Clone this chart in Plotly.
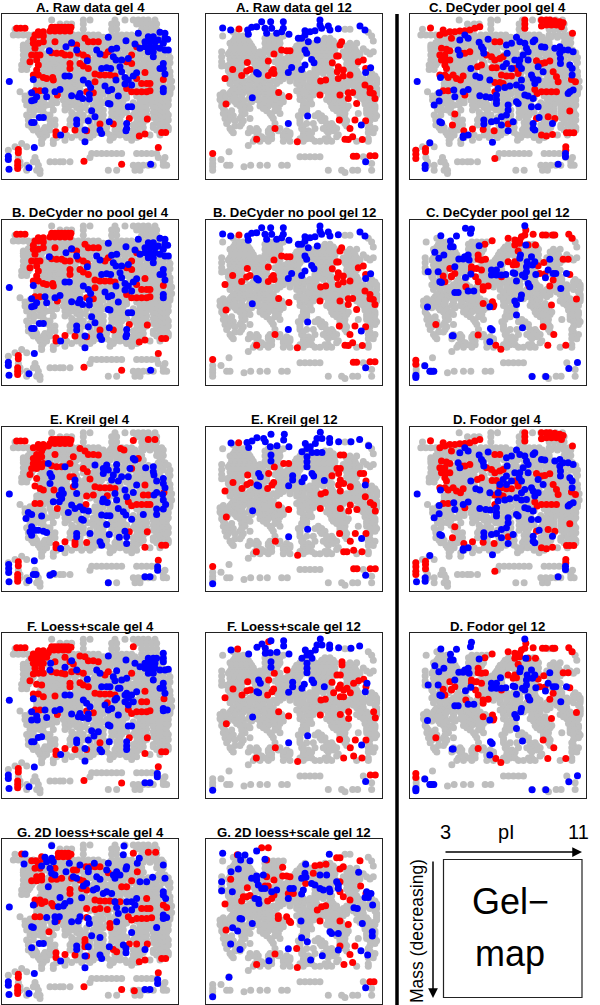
import plotly.graph_objects as go

# Spot positions are read in picture units; each panel has its own reading origin.
GEL4_GREY_ROWS = [
 (60,[155,250,270,345,375,400,415,430,445,465]),
 (72,[180,200,215,250,335,350,410,425,440,455,470]),
 (88,[45,250,335,350,425,440,455,470]),
 (105,[40,55,70,85,100,120,140,160,180,200,220,235,250,265,280,295,335,350,365,380,395,425,440,455,470,485]),
 (112,[90,105,125,145,165,185,205,225,245,260,275,290,310,330,345,365,385,405,430,450,470,490]),
 (120,[95,110,130,150,170,190,210,230,250,270,300,320,340,360,380,400,420,475]),
 (128,[85,100,125,145,165,185,205,225,245,265,285,305,325,345,365,385,405,425,470,490]),
 (135,[70,95,120,140,170,190,210,230,250,270,290,310,330,350,370,390,410,480]),
 (142,[70,85,105,125,150,170,190,210,230,250,270,290,310,330,350,370,390,410,430,485]),
 (150,[70,95,120,200,215,260,320,355,375,395,420,475,495]),
 (158,[80,100,125,145,165,185,205,225,250,270,300,325,350,375,400,425,445,470,490,505]),
 (165,[70,95,130,150,170,190,215,235,290,310,340,360,390,415,440,480]),
 (172,[80,100,125,145,165,185,205,225,260,285,310,335,370,395,420,445,465,490,510]),
 (180,[70,95,130,150,170,190,225,250,280,300,320,350,410,430,450,470,505]),
 (188,[75,90,120,140,160,180,200,230,260,285,310,335,365,385,410,435,455,480,510]),
 (195,[65,85,130,150,170,190,225,270,295,320,350,375,400,420,445,465]),
 (202,[75,125,140,160,180,200,235,255,280,305,335,365,390,410,435,460,480,505]),
 (208,[65,80,130,150,170,190,225,245,290,350,380,400,425,450,470]),
 (215,[120,140,160,180,200,235,255,275,300,330,360,400,430,455,480,510]),
 (220,[130,150,175,190,225,245,265,340,390,415,440,465]),
 (228,[125,145,165,185,205,225,245,270,295,315,335,365,395,430,455,475,510]),
 (235,[175,195,215,235,260,280,300,320,340,360,420,445,465,500]),
 (243,[120,140,160,185,205,225,245,270,295,325,350,380,410,430,450,470,490,515]),
 (250,[110,130,150,170,190,210,230,250,290,310,340,370,400,420,440,460,480,510]),
 (256,[120,140,160,180,200,220,240,270,300,325,355,385,410,430,450,470,490]),
 (262,[110,130,150,170,190,210,230,290,310,350,375,400,420,440,460,480,500,515]),
 (268,[120,140,160,180,200,220,240,300,325,360,385,410,430,450,470,490,510]),
 (275,[60,130,150,195,215,235,300,345,370,465,510]),
 (282,[90,120,150,190,205,225,240,285,310,330,355,380,420,450,475,495,510]),
 (288,[75,100,150,195,300,340,365,410,440,465,505]),
 (294,[90,110,130,170,200,225,280,300,330,355,380,430,455,480,495]),
 (300,[75,120,130,155,190,215,235,290,320,345,370,420,440,470,490,505]),
 (308,[90,110,130,170,205,230,260,290,310,335,360,400,430,455,480,500]),
 (315,[80,100,120,140,155,195,215,240,280,300,345,370,415,440,470,490,505]),
 (322,[100,130,205,230,255,280,300,335,360,405,430,460,480,500]),
 (330,[90,105,120,160,195,240,265,290,310,345,370,415,440,470,490]),
 (337,[130,215,240,280,300,335,355,380,405,430,460,480,500]),
 (345,[80,100,140,150,225,250,290,310,345,365,400,420,440,470,490,505]),
 (352,[85,140,215,240,270,300,335,355,410,430,460,480,500]),
 (360,[85,150,165,210,250,290,310,360,420,440,470,490,505]),
 (367,[100,160,240,270,300,320,350,410,430,470,490]),
 (375,[85,105,150,165,210,240,290,310,360,400,420,460,480,500]),
 (382,[95,110,135,235,275,300,320,350,410,430,460,490,505]),
 (390,[100,130,150,240,280,310,345,360,400,420,470,490,505]),
 (397,[115,135,240,265,295,320,350,410,480]),
 (405,[120,140,200,230,260,280,330,345,360,375,395,450,480]),
 (412,[130,170,215,245,270,340,380,410]),
 (420,[125,160,195,330,395]),
 (430,[65,125,160]),
 (440,[45,80]),
 (450,[25]),
 (460,[275,290,305,320,335,350,365,410,425,440,455,470]),
 (472,[55,105,270,475,495]),
 (485,[60,100,110,150,165,180,190,210,490]),
 (495,[60,80,115,400,415,430,445,460,490,500]),
 (510,[80,110,120,325,350,405,420]),
 (520,[120]),
]
GEL12_GREY_ROWS = [
 (88,[435,450]),
 (97,[100,505]),
 (108,[68,115,130,205,220,235,250,515]),
 (115,[105,120,135,195,210,225,240,315,375,390]),
 (123,[100,115,130,145,205,220,235,305,365,385,400,520]),
 (130,[90,105,120,135,150,195,210,225,240,300,315,330,345,360,375,390,405,450,470]),
 (138,[95,110,125,140,155,205,220,235,290,305,320,340,355,370,385,400,440,460]),
 (146,[95,110,125,140,160,195,215,230,285,300,315,330,345,360,375,390,405,445,465,490]),
 (155,[65,90,105,120,135,150,165,180,200,215,280,295,335,350,365,380,395,430,450,470,500,520]),
 (162,[85,100,115,130,145,160,175,190,210,240,275,290,310,345,360,375,390,405,440,460,480,510]),
 (170,[65,95,110,125,140,160,180,235,265,285,300,335,355,370,385,400,435,450,470]),
 (177,[90,105,120,135,150,170,195,240,255,275,295,350,365,380,395,440,460]),
 (185,[65,100,115,160,175,190,225,245,265,285,355,370,385,445,460]),
 (192,[90,110,125,165,180,200,235,255,275,295,345,365,380,395,440,455,470]),
 (198,[65,80,100,115,175,190,245,265,285,355,370,385,445,465]),
 (205,[90,125,165,185,200,235,255,280,295,345,360,380,445,460]),
 (212,[85,110,190,240,250,290,345,355,375,395,455,470]),
 (220,[90,110,135,165,185,230,250,270,290,310,330,350,370,390,455,475,515]),
 (228,[100,115,160,180,240,260,280,300,320,340,395,460,475,510,525]),
 (236,[85,105,125,150,170,190,235,250,270,290,310,330,350,385,400,455,470,490,515,530]),
 (243,[100,120,140,160,180,200,220,240,270,290,310,330,345,395,410,440,460,480,500,530]),
 (250,[90,110,130,150,170,190,210,230,290,310,330,350,370,390,410,430,450,470,490,510,530]),
 (258,[110,130,150,170,190,210,300,320,340,360,380,400,420,440,460,480,525]),
 (265,[100,120,140,160,180,200,220,300,320,340,360,380,400,420,440,470,490,530]),
 (272,[95,115,135,155,175,195,215,290,310,330,350,370,390,410,430,480,530]),
 (278,[70,90,110,130,150,170,190,210,230,300,320,340,360,390,410,480,500,530]),
 (285,[60,85,105,125,150,175,195,215,245,300,320,340,385,400,470,490,505,530]),
 (292,[75,105,125,150,175,200,225,250,305,325,385,405,425,480,500,520]),
 (298,[60,95,120,145,170,190,215,240,300,330,380,400,420,490,510,525]),
 (305,[65,85,105,130,155,180,200,225,250,310,330,390,410,430,500,520]),
 (312,[110,130,190,215,240,320,335,400,415,430,495,515]),
 (318,[65,120,145,180,205,225,310,395,410,425,445,510,525]),
 (325,[70,135,150,190,235,310,320,400,415,440,500,525]),
 (332,[75,95,125,200,225,305,320,410,430,500,515]),
 (340,[70,85,135,210,240,305,355,420,435,475,500,525]),
 (347,[80,100,125,215,295,345,365,420,430,510,530]),
 (355,[75,90,120,150,220,300,360,375,420,435,525]),
 (362,[85,105,130,300,365,425,440,510]),
 (370,[80,125,225,300,320,340,380,395,435,505]),
 (378,[105,120,310,380,400,440,510]),
 (385,[90,150,170,210,240,305,345,370,390,410,505,525]),
 (392,[95,155,175,205,235,260,310,325,380,400,510]),
 (398,[100,145,170,205,255,270,320,335,385,505,520]),
 (404,[175,215,250,270,310,325,415]),
 (410,[185,210,250,265,310,410]),
 (416,[165,195,215,255,300,320,335,375,385,505]),
 (423,[160,180,205,250,270,310,345,360,380,395,470,505]),
 (436,[145]),
 (455,[87]),
 (470,[300,315,330,345,360,490]),
 (478,[38,63]),
 (490,[38,515]),
 (495,[80,90,152,180,202,245,262]),
 (500,[38,132]),
 (510,[38,385,458,473,425,515]),
 (517,[435]),
]

A4_RED = [(50,85),(62,85),(75,85),(155,82),(165,82),(175,82),(185,82),(195,82),(205,82),(213,82),(150,93),(165,93),(180,93),(195,93),(210,93),(130,95),(115,95),(105,105),(100,118),(115,105),(130,108),(100,130),(115,130),(130,125),(105,145),(110,165),(95,165),(120,165),(165,125),(90,185),(110,180),(115,195),(110,210),(100,225),(115,225),(130,232),(140,235),(160,240),(158,232),(215,130),(230,135),(255,115),(265,125),(280,125),(295,125),(155,158),(170,160),(185,160),(195,165),(210,165),(235,160),(250,165),(262,172),(210,190),(210,205),(240,190),(250,198),(265,205),(285,222),(300,225),(315,225),(330,225),(345,228),(325,155),(315,165),(395,165),(410,140),(380,185),(395,190),(435,217),(410,235),(425,250),(440,250),(450,250),(380,265),(395,275),(410,275),(425,275),(440,275),(450,272),(490,238),(285,245),(260,275),(280,278),(105,272),(120,272),(172,285),(388,355),(442,357),(300,372),(340,372),(195,388),(168,395),(168,405),(225,390),(260,392),(418,408),(435,402),(485,397),(497,397),(475,442),(55,448),(55,458),(53,485),(53,495),(53,505),(252,483),(365,492)]
A4_BLUE = [(28,244),(100,238),(95,278),(135,272),(165,275),(180,268),(95,302),(110,290),(103,300),(140,290),(148,152),(198,140),(215,128),(230,150),(262,182),(290,150),(300,162),(325,112),(378,122),(350,145),(335,148),(340,170),(348,180),(365,180),(385,175),(405,132),(420,145),(360,200),(365,215),(375,232),(385,240),(400,228),(410,218),(375,252),(395,255),(305,205),(320,203),(332,205),(195,228),(208,228),(250,240),(265,250),(272,262),(315,258),(325,272),(335,268),(348,240),(355,288),(215,287),(240,280),(235,290),(248,295),(268,283),(268,297),(325,310),(330,312),(385,320),(395,320),(275,332),(285,350),(265,362),(230,360),(230,372),(118,352),(130,352),(95,367),(102,367),(328,365),(380,370),(380,385),(378,392),(300,390),(305,400),(255,390),(182,405),(255,425),(103,442),(25,468),(25,478),(27,507),(87,503),(452,492),(490,190),(490,205),(480,205),(495,222),(490,265),(490,275),(415,100),(480,97),(495,100),(495,115),(503,118),(445,110),(460,110),(475,120),(435,125),(450,125),(465,125),(435,140),(450,140),(465,140),(480,145),(495,150),(505,150),(445,155),(460,155),(460,170),(490,130)]

F4_RED = [(50,83),(62,83),(75,83),(155,80),(165,80),(175,80),(185,80),(195,80),(205,80),(213,82),(150,90),(162,90),(175,90),(190,90),(205,90),(130,92),(115,92),(100,102),(115,102),(130,102),(145,98),(95,115),(110,115),(125,118),(140,112),(195,112),(100,130),(115,130),(130,130),(105,145),(125,145),(100,162),(115,160),(130,160),(165,125),(90,182),(110,193),(125,195),(100,222),(115,222),(130,230),(165,228),(155,155),(170,158),(185,160),(195,162),(210,125),(220,132),(240,108),(255,110),(265,122),(280,122),(295,125),(215,155),(235,155),(250,160),(210,190),(210,200),(240,188),(250,195),(265,200),(285,220),(300,222),(315,222),(330,222),(345,225),(325,155),(315,165),(395,160),(400,80),(435,214),(425,245),(440,245),(492,236),(322,248),(385,268),(395,280),(410,275),(425,275),(440,275),(450,272),(260,273),(280,278),(105,270),(120,270),(172,283),(388,353),(442,353),(300,368),(195,385),(168,393),(168,403),(225,388),(260,388),(435,400),(485,395),(497,395),(475,440),(55,445),(55,456),(53,483),(53,493),(53,503),(252,481),(365,489)]
F4_BLUE = [(28,241),(100,236),(95,275),(135,270),(165,272),(180,268),(95,300),(110,288),(112,300),(140,292),(152,130),(150,150),(195,142),(215,122),(230,150),(262,178),(290,150),(300,160),(325,108),(378,120),(350,152),(340,170),(345,182),(365,180),(380,175),(355,205),(445,115),(460,115),(470,115),(435,130),(450,130),(465,130),(435,145),(450,145),(465,145),(480,150),(495,150),(505,148),(445,160),(460,160),(460,180),(490,100),(490,115),(490,125),(405,130),(420,140),(490,190),(490,205),(480,205),(495,220),(490,265),(490,272),(502,270),(305,200),(320,200),(330,200),(195,225),(210,225),(250,240),(260,250),(270,260),(315,255),(325,270),(335,265),(345,240),(350,235),(355,285),(375,225),(385,235),(395,225),(410,215),(375,245),(385,255),(400,245),(360,205),(380,220),(215,282),(240,280),(235,290),(248,292),(265,282),(265,295),(325,315),(330,318),(385,318),(395,318),(275,332),(295,335),(282,348),(265,360),(230,360),(230,368),(125,350),(115,352),(95,365),(102,365),(328,365),(380,365),(380,378),(380,388),(300,388),(305,395),(255,385),(182,403),(255,423),(103,441),(25,465),(25,475),(27,505),(87,500),(435,488),(450,488),(472,460),(472,470)]

E4_RED = [(50,108),(62,108),(75,108),(155,103),(165,103),(175,103),(185,103),(195,103),(205,103),(213,105),(150,115),(165,115),(180,115),(195,115),(210,115),(130,118),(115,118),(100,128),(115,128),(130,128),(145,123),(165,148),(125,138),(110,148),(100,160),(115,160),(125,155),(100,175),(115,175),(130,175),(95,190),(110,190),(125,185),(90,208),(110,220),(105,243),(120,250),(130,255),(162,255),(155,182),(170,185),(185,185),(210,175),(220,155),(240,130),(255,138),(265,148),(280,148),(295,150),(210,215),(220,215),(220,245),(250,190),(262,200),(270,222),(285,245),(300,248),(315,248),(330,248),(345,250),(322,272),(260,273),(280,270),(258,298),(400,106),(445,103),(465,103),(362,130),(372,135),(415,160),(395,190),(435,240),(430,270),(445,270),(492,262),(385,290),(395,302),(410,298),(425,298),(440,298),(450,298),(105,295),(120,295),(172,310),(388,380),(442,380),(195,410),(168,418),(168,428),(225,410),(225,418),(260,412),(435,426),(485,420),(497,420),(475,465),(55,470),(55,482),(53,508),(53,518),(53,528)]
E4_BLUE = [(28,267),(103,467),(26,478),(26,490),(26,502),(27,530),(87,526),(100,508),(108,508),(150,510),(160,505),(325,533),(435,515),(450,515),(473,485),(473,495),(145,175),(150,205),(155,215),(150,235),(195,185),(225,225),(285,180),(310,190),(320,180),(325,195),(310,205),(350,178),(350,195),(340,210),(335,225),(355,228),(365,215),(385,215),(390,190),(400,160),(405,165),(437,188),(460,185),(460,200),(462,210),(470,228),(490,220),(490,235),(495,248),(470,262),(462,270),(488,268),(490,285),(497,298),(490,312),(470,312),(185,255),(178,270),(190,265),(230,265),(160,290),(178,290),(185,280),(225,240),(215,300),(205,322),(225,310),(240,305),(250,315),(265,318),(245,342),(250,345),(308,290),(322,292),(310,282),(345,265),(350,285),(355,310),(375,255),(380,275),(400,262),(410,240),(370,320),(378,330),(395,342),(430,328),(470,328),(305,330),(320,332),(330,332),(320,358),(85,322),(95,328),(78,340),(125,333),(95,365),(90,380),(105,375),(95,390),(115,375),(130,378),(140,382),(182,430),(230,385),(230,395),(270,385),(300,410),(305,420),(328,388),(358,396),(375,378),(380,395),(380,415)]

C4_RED = [(92,84),(130,90),(150,95),(165,95),(180,93),(195,92),(210,90),(225,85),(240,80),(120,105),(135,100),(155,115),(375,60),(375,72),(375,85),(425,60),(440,60),(450,60),(465,62),(480,65),(490,68),(440,75),(455,75),(470,75),(485,80),(425,78),(518,100),(125,145),(140,148),(150,152),(120,165),(135,165),(125,180),(140,180),(150,180),(135,195),(140,205),(185,160),(195,160),(210,155),(285,125),(300,125),(260,165),(275,170),(285,180),(300,175),(310,170),(245,195),(120,225),(135,225),(145,232),(160,225),(170,235),(182,240),(190,228),(233,200),(277,203),(290,203),(305,225),(320,228),(335,228),(345,205),(355,220),(285,247),(300,247),(285,275),(310,250),(410,182),(425,190),(435,188),(450,183),(460,215),(470,230),(475,245),(515,238),(527,245),(405,268),(412,280),(425,275),(440,275),(455,275),(470,275),(130,272),(145,272),(195,285),(410,355),(445,350),(465,355),(510,333),(165,342),(158,375),(325,372),(192,392),(218,387),(250,388),(283,392),(425,405),(440,408),(458,403),(500,398),(510,398),(522,398),(498,440),(498,450),(48,450),(48,462),(48,475),(77,445),(77,455),(285,475)]
C4_BLUE = [(52,244),(90,428),(76,495),(76,505),(475,492),(497,460),(497,470),(180,120),(195,105),(205,115),(175,150),(180,165),(238,127),(245,140),(250,148),(265,118),(252,160),(320,135),(335,130),(350,112),(360,125),(375,130),(400,125),(405,120),(425,140),(435,142),(322,160),(380,145),(385,155),(370,165),(360,180),(385,180),(465,145),(480,140),(490,150),(505,150),(520,155),(480,160),(482,175),(482,190),(510,195),(517,205),(517,225),(213,205),(228,228),(240,232),(345,180),(320,190),(310,200),(335,205),(358,195),(365,205),(415,200),(430,215),(395,225),(400,235),(415,240),(405,250),(122,232),(118,278),(162,270),(190,275),(205,268),(165,290),(270,240),(295,265),(315,262),(330,258),(350,255),(365,240),(365,262),(375,285),(385,288),(400,295),(240,287),(258,290),(272,292),(290,285),(290,300),(290,310),(325,315),(325,330),(320,345),(350,305),(355,310),(395,320),(415,320),(103,315),(118,303),(120,365),(125,368),(252,360),(252,372),(275,365),(290,362),(305,350),(305,375),(340,365),(418,352),(400,370),(400,385),(405,390),(458,370),(325,392),(190,408),(205,405),(190,412),(278,426),(510,275),(520,270),(505,280)]
D4_EXTRA_RED = [(48,485),(77,468),(300,225)]
D4_EXTRA_BLUE = [(50,507),(300,215),(320,215),(295,240),(375,230),(380,260)]

G4_RED = [(65,102),(95,122),(108,122),(175,100),(185,100),(195,100),(205,100),(213,103),(125,110),(175,110),(190,110),(205,110),(130,118),(165,145),(115,130),(400,100),(445,97),(467,97),(105,145),(120,145),(220,150),(230,150),(258,140),(270,140),(285,140),(300,140),(325,158),(412,155),(110,170),(125,168),(95,182),(110,182),(125,180),(155,178),(170,178),(185,175),(215,175),(240,180),(250,183),(395,182),(210,208),(210,220),(245,205),(260,210),(365,200),(380,200),(105,240),(120,240),(135,245),(105,252),(125,250),(155,250),(160,258),(285,240),(300,243),(315,243),(330,243),(345,245),(360,245),(440,235),(490,255),(500,262),(425,265),(440,265),(450,265),(260,265),(285,268),(322,268),(300,265),(105,290),(120,290),(172,302),(260,292),(385,290),(395,300),(410,295),(425,295),(440,295),(455,293),(330,310),(330,322),(147,335),(255,358),(255,368),(255,380),(388,372),(410,372),(442,372),(340,388),(350,395),(195,403),(168,398),(168,412),(225,405),(260,408),(435,420),(418,425),(485,415),(497,415),(475,458),(55,462),(55,472),(53,500),(53,510),(53,520),(252,500),(365,508),(403,512)]
G4_BLUE = [(155,77),(372,78),(370,104),(75,102),(72,132),(125,138),(135,112),(140,125),(155,115),(160,125),(150,145),(155,160),(165,165),(198,155),(208,130),(220,170),(230,175),(240,135),(265,155),(265,145),(283,130),(290,170),(300,178),(325,130),(320,150),(350,155),(340,165),(380,140),(378,147),(412,130),(418,115),(440,185),(420,185),(458,172),(490,135),(495,175),(345,175),(360,165),(145,200),(180,232),(195,250),(210,243),(175,260),(190,258),(245,233),(260,190),(250,198),(280,210),(290,205),(310,220),(320,215),(335,220),(345,245),(350,262),(355,280),(380,245),(395,245),(405,255),(395,270),(375,270),(410,235),(490,215),(490,225),(497,235),(490,285),(490,295),(500,292),(100,255),(28,261),(95,320),(100,322),(140,292),(165,290),(178,290),(165,305),(215,305),(240,290),(235,303),(265,295),(268,310),(350,305),(395,337),(470,322),(300,352),(275,347),(265,380),(230,378),(230,388),(118,370),(130,370),(95,383),(328,380),(370,375),(378,385),(378,398),(435,388),(300,405),(305,415),(255,408),(182,423),(255,443),(103,460),(25,485),(25,495),(27,523),(87,520),(435,508),(450,508),(473,478),(473,490)]

A12_RED = [(117,87),(142,187),(98,208),(75,235),(125,226),(140,213),(150,208),(205,183),(222,162),(245,150),(260,152),(270,152),(220,208),(215,215),(205,226),(222,220),(236,277),(267,289),(360,285),(362,243),(377,240),(425,125),(420,135),(415,168),(410,168),(397,188),(415,200),(430,210),(412,215),(415,235),(430,228),(450,225),(475,185),(490,180),(497,205),(420,285),(445,278),(458,277),(445,295),(470,310),(495,255),(510,265),(510,278),(520,280),(525,295),(78,312),(418,360),(465,360),(497,362),(450,385),(458,410),(435,417),(445,418),(487,418),(225,385),(170,417),(292,425),(38,460),(460,468),(470,468),(510,467),(525,467)]
A12_BLUE = [(68,84),(92,90),(143,90),(145,103),(155,82),(170,80),(185,65),(195,85),(200,100),(212,65),(215,85),(230,100),(245,95),(250,65),(250,85),(267,103),(295,115),(305,115),(315,92),(315,105),(330,95),(345,92),(325,125),(352,120),(360,60),(360,75),(365,85),(385,78),(390,90),(415,86),(480,78),(495,90),(315,150),(320,160),(335,178),(342,188),(305,208),(315,195),(275,202),(265,217),(170,217),(175,222),(157,293),(323,348),(265,370),(484,375),(497,485),(512,203),(497,217)]

E12_RED = [(715,113),(822,186),(850,175),(865,175),(742,210),(805,205),(698,232),(725,250),(740,238),(750,233),(802,250),(815,240),(820,232),(674,258),(835,300),(865,313),(960,310),(962,267),(975,262),(1020,150),(1030,150),(1010,190),(1020,190),(995,212),(1015,205),(1020,225),(1015,240),(1030,235),(1050,245),(1080,205),(1090,205),(1097,228),(1020,258),(1095,275),(1110,292),(1120,300),(1125,318),(1050,300),(1045,318),(1020,310),(1070,313),(678,336),(1018,385),(1065,385),(1097,385),(1050,408),(1060,435),(1030,440),(1040,440),(1085,440),(825,408),(768,440),(892,450),(637,484),(1060,491),(1070,491),(1110,491),(1125,491)]
E12_BLUE = [(692,114),(740,112),(745,127),(770,98),(755,108),(790,100),(812,88),(795,110),(810,125),(830,122),(852,88),(850,105),(866,125),(812,150),(812,168),(960,82),(965,100),(950,100),(945,115),(930,125),(915,115),(905,140),(920,130),(935,142),(950,142),(965,142),(920,155),(920,170),(920,185),(988,100),(988,112),(1015,110),(1052,110),(1078,103),(1105,122),(775,205),(780,215),(770,240),(775,243),(877,212),(877,225),(865,242),(905,230),(912,218),(935,205),(940,213),(972,226),(1095,240),(757,317),(922,372),(865,395),(1084,400),(1096,510),(637,536)]

F12_RED = [(712,87),(805,65),(742,185),(822,160),(860,150),(805,180),(698,207),(725,225),(740,212),(750,210),(802,225),(815,215),(820,207),(674,233),(835,275),(865,288),(960,285),(962,240),(975,238),(1025,125),(1025,135),(1010,165),(1020,165),(995,187),(1015,205),(1000,218),(1020,195),(1030,210),(1040,205),(1050,218),(1020,230),(1030,230),(1060,190),(1075,182),(1090,178),(1097,200),(1045,275),(1045,295),(1020,283),(1120,275),(1125,293),(678,311),(1018,358),(1065,360),(1097,360),(1050,383),(1060,408),(1030,414),(1085,414),(825,383),(768,414),(892,424),(1110,465),(1125,465)]
F12_BLUE = [(692,90),(745,102),(770,82),(785,72),(795,85),(812,62),(795,100),(810,98),(830,97),(850,62),(850,78),(866,102),(812,125),(812,142),(960,57),(965,75),(950,75),(945,90),(930,100),(915,90),(905,115),(920,105),(935,115),(920,130),(920,145),(920,158),(988,75),(988,85),(1015,83),(1052,85),(1078,78),(775,180),(780,190),(770,215),(775,218),(877,187),(877,200),(865,217),(905,205),(912,193),(935,180),(940,188),(972,200),(1100,190),(1095,215),(757,291),(922,347),(865,368),(1084,375),(1096,484),(637,510)]

C12_RED = [(277,107),(255,118),(235,150),(235,163),(245,165),(257,163),(215,185),(215,195),(230,190),(245,195),(227,215),(235,230),(198,245),(250,245),(265,243),(250,255),(150,190),(130,213),(135,230),(155,213),(165,205),(155,215),(325,100),(345,105),(360,105),(365,95),(375,90),(378,75),(345,120),(360,115),(355,138),(400,88),(428,90),(438,90),(458,90),(465,90),(507,88),(517,100),(385,120),(407,120),(325,170),(345,170),(350,178),(340,180),(305,215),(415,182),(432,172),(490,163),(505,163),(420,205),(435,207),(460,225),(450,243),(510,208),(388,243),(250,295),(278,290),(282,300),(280,305),(455,300),(530,282),(108,358),(430,365),(235,390),(462,388),(288,420),(303,432),(444,420),(498,420),(48,465),(48,477)]
C12_BLUE = [(197,70),(215,72),(212,85),(123,92),(170,93),(152,108),(152,125),(160,125),(105,142),(117,160),(132,150),(177,162),(190,162),(195,155),(205,150),(208,165),(85,200),(115,200),(165,185),(213,207),(197,217),(120,230),(125,232),(165,262),(175,262),(205,258),(222,258),(238,122),(275,195),(290,195),(302,178),(275,210),(290,210),(305,210),(318,208),(340,203),(350,228),(345,205),(362,150),(360,160),(375,62),(378,120),(368,210),(380,200),(380,185),(382,170),(395,155),(398,180),(405,170),(408,208),(450,163),(375,215),(385,235),(390,245),(437,218),(445,195),(460,205),(468,205),(483,250),(500,205),(365,270),(363,280),(345,288),(350,298),(350,330),(83,306),(270,305),(272,370),(277,375),(368,368),(157,392),(160,392),(270,410),(533,472),(507,490),(397,514),(438,514),(75,482),(95,498),(90,498),(102,498),(48,510),(48,517)]

G12_RED = [(112,104),(185,83),(205,83),(200,120),(248,142),(248,168),(260,168),(270,170),(200,170),(222,180),(92,178),(142,203),(195,198),(205,198),(130,230),(140,230),(150,226),(125,243),(203,243),(215,235),(222,225),(265,220),(280,220),(75,252),(235,287),(235,295),(260,290),(268,303),(272,307),(345,137),(360,135),(378,133),(410,113),(420,113),(430,140),(420,147),(480,122),(340,160),(317,190),(420,185),(482,198),(420,215),(430,230),(450,240),(498,220),(352,270),(365,260),(377,257),(360,303),(420,303),(445,313),(78,330),(420,378),(465,378),(290,385),(450,403),(225,402),(458,427),(432,433),(170,433),(292,442),(510,485),(522,485)]
G12_BLUE = [(68,100),(115,105),(122,120),(135,105),(150,122),(170,93),(195,118),(115,147),(93,155),(65,185),(65,212),(97,215),(155,175),(170,168),(170,180),(190,165),(175,195),(185,205),(195,205),(215,215),(230,210),(165,235),(175,238),(177,250),(265,235),(280,205),(270,205),(310,210),(305,222),(317,133),(315,160),(318,172),(305,175),(335,190),(345,195),(360,165),(380,165),(360,205),(370,210),(388,207),(390,215),(388,103),(410,185),(415,195),(415,205),(476,157),(500,215),(513,220),(495,232),(505,232),(518,255),(462,263),(472,265),(120,295),(125,297),(157,310),(303,303),(98,323),(113,333),(487,310),(517,335),(517,348),(390,335),(395,340),(415,340),(305,353),(322,365),(92,372),(120,388),(265,386),(415,390),(367,407),(332,420),(207,422),(483,392),(503,405),(497,503),(87,471),(38,530)]

GREY, RED, BLUE = "#bebebe", "#ff0000", "#0000ff"
W, H = 600, 1005
COLS = [2, 206, 409.5]
ROWS = {"r1": 14, "r2": 220, "r3": 426.7, "r4": 633.3, "r5": 839}
PW, PH = 176.3, 164.5

# title, column, row, red, blue, reading origin of those, gel
PANELS = [
 ("A. Raw data gel 4", 0, "r1", A4_RED, A4_BLUE, (6, 42), 4),
 ("A. Raw data gel 12", 1, "r1", A12_RED, A12_BLUE, (18, 42), 12),
 ("C. DeCyder pool gel 4", 2, "r1", C4_RED, C4_BLUE, (29, 42), 4),
 ("B. DeCyder no pool gel 4", 0, "r2", A4_RED, A4_BLUE, (6, 42), 4),
 ("B. DeCyder no pool gel 12", 1, "r2", A12_RED, A12_BLUE, (18, 42), 12),
 ("C. DeCyder pool gel 12", 2, "r2", C12_RED, C12_BLUE, (29, 45), 12),
 ("E. Kreil gel 4", 0, "r3", E4_RED, E4_BLUE, (6, 65), 4),
 ("E. Kreil gel 12", 1, "r3", E12_RED, E12_BLUE, (617, 65), 12),
 ("D. Fodor gel 4", 2, "r3", C4_RED + D4_EXTRA_RED, C4_BLUE + D4_EXTRA_BLUE, (29, 42), 4),
 ("F. Loess+scale gel 4", 0, "r4", F4_RED, F4_BLUE, (6, 40), 4),
 ("F. Loess+scale gel 12", 1, "r4", F12_RED, F12_BLUE, (617, 40), 12),
 ("D. Fodor gel 12", 2, "r4", C12_RED, C12_BLUE[1:], (29, 45), 12),
 ("G. 2D loess+scale gel 4", 0, "r5", G4_RED, G4_BLUE, (6, 57), 4),
 ("G. 2D loess+scale gel 12", 1, "r5", G12_RED, G12_BLUE, (18, 57), 12),
]

def grey_points(rows):
    return [(x, y) for y, xs in rows for x in xs]

GREY_PTS = {4: (grey_points(GEL4_GREY_ROWS), (6, 42)), 12: (grey_points(GEL12_GREY_ROWS), (18, 42))}
fig = go.Figure()
layout = {}
annotations = []
TITLE_FONT = dict(family="Liberation Sans", size=13.2, color="black")

def add_pts(pts, origin, color, n):
    fig.add_trace(go.Scatter(
        x=[p[0] - origin[0] for p in pts], y=[p[1] - origin[1] for p in pts],
        mode="markers", marker=dict(color=color, size=7, line=dict(width=0)),
        xaxis=f"x{n}", yaxis=f"y{n}", showlegend=False, hoverinfo="skip"))

for i, (title, c, r, red, blue, origin, gel) in enumerate(PANELS, start=1):
    x0, y0 = COLS[c], ROWS[r]
    pts, o = GREY_PTS[gel]
    add_pts(pts, o, GREY, i)
    add_pts(red, origin, RED, i)
    add_pts(blue, origin, BLUE, i)
    axis = dict(showgrid=False, zeroline=False, showticklabels=False, ticks="",
                showline=True, mirror=True, linecolor="#222222", linewidth=1.2)
    layout[f"xaxis{i}"] = dict(axis, domain=[x0 / W, (x0 + PW) / W], range=[0, 529], anchor=f"y{i}")
    layout[f"yaxis{i}"] = dict(axis, domain=[1 - (y0 + PH) / H, 1 - y0 / H], range=[493, 0], anchor=f"x{i}")
    annotations.append(dict(text=f"<b>{title}</b>", x=(x0 + PW / 2) / W, y=1 - (y0 - 7) / H,
                            xref="paper", yref="paper", showarrow=False, font=TITLE_FONT,
                            xanchor="center", yanchor="middle"))

def px(x): return x / W
def py(y): return 1 - y / H

TEXT = dict(family="Liberation Sans", color="black")
for txt, x, y, size in [("3", 445, 832, 20), ("pI", 506, 832, 20), ("11", 578, 832, 20),
                        ("Gel\u2212", 510, 901, 36), ("map", 510, 953, 36)]:
    annotations.append(dict(text=txt, x=px(x), y=py(y), xref="paper", yref="paper", showarrow=False,
                            font=dict(TEXT, size=size), xanchor="center", yanchor="middle"))
annotations.append(dict(text="Mass (decreasing)", x=px(417), y=py(931), xref="paper", yref="paper", showarrow=False,
                        textangle=-90, font=dict(TEXT, size=17.5), xanchor="center", yanchor="middle"))
# schematic axis arrows
annotations.append(dict(x=px(582), y=py(852), ax=-138, ay=0, xref="paper", yref="paper",
                        axref="pixel", ayref="pixel", text="", showarrow=True, arrowhead=2, arrowsize=1.3,
                        arrowwidth=1.5, arrowcolor="black"))
annotations.append(dict(x=px(433), y=py(998), ax=0, ay=-138, xref="paper", yref="paper",
                        axref="pixel", ayref="pixel", text="", showarrow=True, arrowhead=2, arrowsize=1.3,
                        arrowwidth=1.5, arrowcolor="black"))

shapes = [
 dict(type="line", xref="paper", yref="paper", x0=px(397), x1=px(397), y0=py(14), y1=py(1005),
      line=dict(color="black", width=3.5)),
 dict(type="rect", xref="paper", yref="paper", x0=px(443.5), x1=px(582), y0=py(859.5), y1=py(997.5),
      line=dict(color="#222222", width=1.2)),
]

fig.update_layout(width=W, height=H, margin=dict(l=0, r=0, t=0, b=0), autosize=False,
                  plot_bgcolor="white", paper_bgcolor="white", annotations=annotations,
                  shapes=shapes, **layout)
fig.write_html("out.html", post_script="document.body.style.margin='0';document.documentElement.style.overflow='hidden';",
               config={"displayModeBar": False})
